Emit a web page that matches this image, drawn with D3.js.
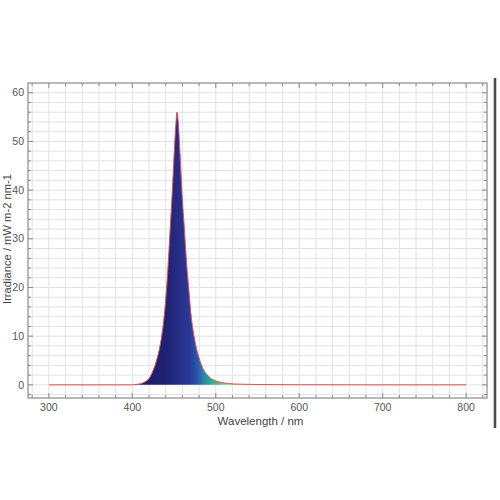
<!DOCTYPE html>
<html><head><meta charset="utf-8">
<script src="https://cdn.jsdelivr.net/npm/d3@7"></script>
<style>body{margin:0;background:#fff}svg{display:block}</style>
</head><body>
<script>
const wavelengths = [300,350,400,405,410,415,420,425,430,432.5,435,437.5,440,442.5,445,448,450,452,453.5,455,457,460,462,465,468,470,475,480,485,490,495,500,510,520,540,560,600,700,800];
const irradiance  = [0,0,0,0.1,0.25,0.6,1.3,3.0,5.6,7.4,9.8,13,17.5,23.5,31,40,47,53,56,54,48,38,33,25,19,15,9,5.5,3.2,2.0,1.2,0.8,0.4,0.2,0.1,0.05,0.02,0,0];
const xTicks = [300,400,500,600,700,800];
const yTicks = [0,10,20,30,40,50,60];
const xLabel = "Wavelength / nm";
const yLabel = "Irradiance / mW m-2 nm-1";
const gradStops = [[405,"#1a1a5c"],[440,"#1e2272"],[458,"#282f8a"],[470,"#2b3b98"],[478,"#2a58a8"],[485,"#2a82aa"],[492,"#2aa49a"],[500,"#50b488"],[515,"#a8c890"]];

const W=500,H=500;
const L=28,R=487,T=83,B=398;
const svg=d3.select("body").append("svg").attr("width",W).attr("height",H);
const x=d3.scaleLinear().domain([275,825]).range([L,R]);
const y=d3.scaleLinear().domain([-2.7,62]).range([B,T]);

// grid
const gx=d3.range(280,821,20), gy=d3.range(-2,62,2);
svg.append("g").selectAll("line").data(gx).join("line")
 .attr("x1",d=>x(d)).attr("x2",d=>x(d)).attr("y1",T).attr("y2",B)
 .attr("stroke","#e2e2e2").attr("stroke-width",1);
svg.append("g").selectAll("line").data(gy).join("line")
 .attr("y1",d=>y(d)).attr("y2",d=>y(d)).attr("x1",L).attr("x2",R)
 .attr("stroke","#e2e2e2").attr("stroke-width",1);

// gradient
const defs=svg.append("defs");
const lg=defs.append("linearGradient").attr("id","spec").attr("gradientUnits","userSpaceOnUse")
 .attr("x1",x(400)).attr("x2",x(530)).attr("y1",0).attr("y2",0);
gradStops.forEach(s=>lg.append("stop").attr("offset",(s[0]-400)/130).attr("stop-color",s[1]));

const pts=wavelengths.map((w,i)=>[w,irradiance[i]]);
const area=d3.area().x(d=>x(d[0])).y0(y(0)).y1(d=>y(d[1])).curve(d3.curveMonotoneX);
svg.append("path").datum(pts).attr("d",area).attr("fill","url(#spec)");
const line=d3.line().x(d=>x(d[0])).y(d=>y(d[1])).curve(d3.curveMonotoneX);
svg.append("path").datum(pts).attr("d",line).attr("fill","none").attr("stroke","#d9505e").attr("stroke-width",1);

// frame
svg.append("rect").attr("x",L).attr("y",T).attr("width",R-L).attr("height",B-T)
 .attr("fill","none").attr("stroke","#8a8a8a").attr("stroke-width",1.2);

// ticks inward
const tk=svg.append("g").attr("stroke","#8a8a8a").attr("stroke-width",1);
gx.forEach(v=>{const len=xTicks.includes(v)?5:3;
 tk.append("line").attr("x1",x(v)).attr("x2",x(v)).attr("y1",B).attr("y2",B-len);
 tk.append("line").attr("x1",x(v)).attr("x2",x(v)).attr("y1",T).attr("y2",T+len);});
gy.forEach(v=>{const len=yTicks.includes(v)?5:3;
 tk.append("line").attr("y1",y(v)).attr("y2",y(v)).attr("x1",L).attr("x2",L+len);
 tk.append("line").attr("y1",y(v)).attr("y2",y(v)).attr("x1",R).attr("x2",R-len);});

// tick labels
const f="Liberation Sans, Arial, sans-serif";
svg.append("g").selectAll("text").data(xTicks).join("text")
 .attr("x",d=>x(d)).attr("y",B+13).attr("text-anchor","middle")
 .attr("font-family",f).attr("font-size",10.5).attr("fill","#555").text(d=>d);
svg.append("g").selectAll("text").data(yTicks).join("text")
 .attr("x",L-4).attr("y",d=>y(d)+3.7).attr("text-anchor","end")
 .attr("font-family",f).attr("font-size",10.5).attr("fill","#555").text(d=>d);

// titles
svg.append("text").attr("x",(L+R)/2+3).attr("y",425).attr("text-anchor","middle")
 .attr("font-family",f).attr("font-size",11.5).attr("fill","#444").text(xLabel);
svg.append("text").attr("transform","translate(10.5,239) rotate(-90)").attr("text-anchor","middle")
 .attr("font-family",f).attr("font-size",11.2).attr("fill","#444").text(yLabel);

// right border bar
svg.append("line").attr("x1",495).attr("x2",495).attr("y1",78).attr("y2",428)
 .attr("stroke","#4a4a4a").attr("stroke-width",2.5);
</script>
</body></html>
